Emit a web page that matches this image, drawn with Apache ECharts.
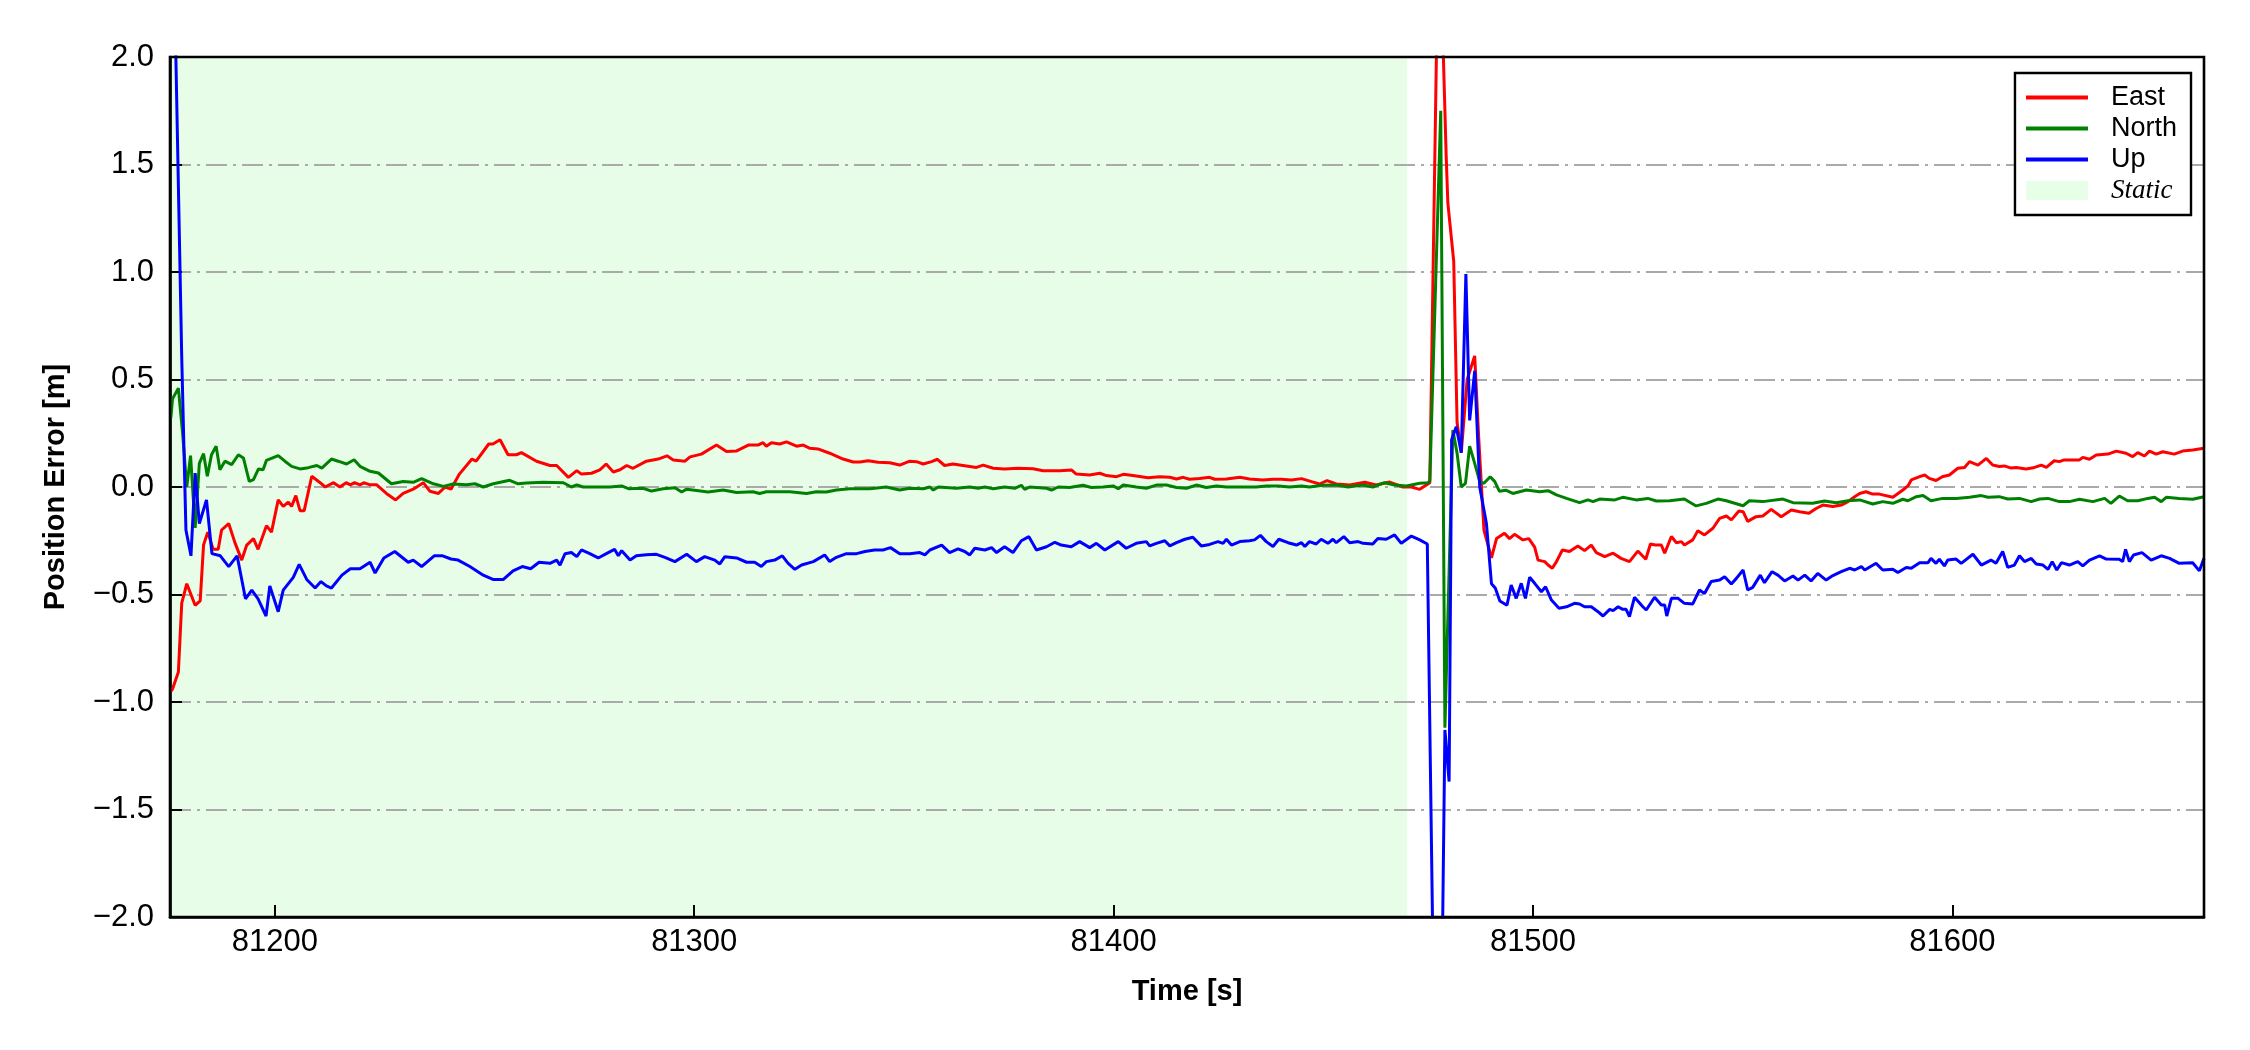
<!DOCTYPE html>
<html>
<head>
<meta charset="utf-8">
<script src="https://cdn.jsdelivr.net/npm/echarts@6/dist/echarts.min.js"></script>
<style>
  html, body { margin: 0; padding: 0; background: #fff; }
  #chart { width: 2250px; height: 1050px; }
</style>
</head>
<body>
<div id="chart"></div>
<script>
// tick positions on the time axis
var xTicks = [81200, 81300, 81400, 81500, 81600];
// static period (shaded)
var staticSpan = [81175, 81470];

// [time, error] pairs
var east = [
  [81175.2,-0.95],[81175.6,-0.94],[81177,-0.86],[81177.8,-0.54],[81179,-0.45],[81181,-0.55],[81182.2,-0.53],[81183,-0.27],
  [81184,-0.21],[81185.3,-0.29],[81186.5,-0.29],[81187.3,-0.2],[81189,-0.17],[81190.5,-0.26],[81192.1,-0.34],[81193.3,-0.27],
  [81194.9,-0.24],[81196,-0.29],[81198,-0.18],[81199.2,-0.21],[81200.8,-0.06],[81202,-0.09],[81203.2,-0.07],[81204,-0.09],
  [81205,-0.04],[81206,-0.11],[81207,-0.11],[81208.8,0.05],[81210.8,0.02],[81212,0],[81214,0.02],[81215.5,0],[81217,0.02],
  [81218,0.01],[81219,0.02],[81220.3,0.01],[81221.2,0.02],[81222.7,0.01],[81224.3,0.01],[81226.6,-0.03],[81228.8,-0.06],
  [81230.6,-0.03],[81233,-0.01],[81235.4,0.02],[81237,-0.02],[81239,-0.03],[81240.6,0],[81242,-0.01],[81244,0.06],[81247,0.13],
  [81248,0.12],[81251,0.2],[81252,0.2],[81253.7,0.22],[81255.6,0.15],[81257.6,0.15],[81258.8,0.16],[81262.4,0.12],[81265.6,0.1],
  [81267.2,0.1],[81270,0.045],[81272,0.076],[81273.1,0.06],[81275.5,0.064],[81277.5,0.08],[81279,0.107],[81280.7,0.07],
  [81282.3,0.08],[81283.9,0.1],[81285.4,0.087],[81288.6,0.12],[81291.4,0.13],[81293.5,0.145],[81295,0.126],[81297.8,0.12],
  [81299,0.14],[81301.7,0.153],[81305.3,0.195],[81307.7,0.165],[81310,0.167],[81312.9,0.195],[81315.2,0.195],[81316.4,0.206],
  [81317.2,0.19],[81318.4,0.206],[81320.4,0.2],[81322,0.21],[81324.4,0.19],[81326,0.195],[81327.6,0.18],[81329.5,0.177],
  [81332.3,0.157],[81335.5,0.13],[81337.9,0.116],[81339.5,0.116],[81341.5,0.122],[81343.8,0.115],[81346.6,0.113],[81349,0.102],
  [81351.4,0.12],[81353,0.118],[81354.6,0.107],[81356.6,0.118],[81358,0.129],[81359.7,0.1],[81361.7,0.107],[81364.9,0.098],
  [81367.3,0.091],[81368.9,0.102],[81371.3,0.087],[81374,0.084],[81377.2,0.087],[81380.8,0.085],[81383.2,0.076],[81387.2,0.076],
  [81390,0.079],[81391.1,0.06],[81394.3,0.056],[81396.7,0.064],[81398.3,0.053],[81400.7,0.048],[81402.3,0.059],[81404.6,0.053],
  [81408.2,0.043],[81411,0.048],[81413.4,0.045],[81415,0.037],[81416.6,0.045],[81418.1,0.036],[81420.5,0.04],[81422.9,0.045],
  [81424.1,0.036],[81426.9,0.037],[81430.1,0.045],[81432.4,0.037],[81435.6,0.033],[81438,0.036],[81440,0.036],[81442.4,0.033],
  [81444.8,0.039],[81447.2,0.025],[81449.1,0.014],[81450.9,0.03],[81453.1,0.014],[81456.3,0.009],[81459.9,0.022],[81462.6,0.009],
  [81465.8,0.023],[81469,0],[81471,0],[81473,-0.011],[81475.4,0.02],[81477.2,2.3],[81478.2,2.3],[81479.3,1.54],[81479.7,1.32],
  [81481.1,1.05],[81481.9,0.3],[81482.9,0.16],[81484.3,0.5],[81486.1,0.61],[81487,0.25],[81488.3,-0.2],[81490.1,-0.33],
  [81491.3,-0.24],[81493.2,-0.215],[81494.4,-0.24],[81495.6,-0.22],[81497.6,-0.246],[81499,-0.24],[81500.4,-0.28],[81501.2,-0.34],
  [81502.8,-0.347],[81503.6,-0.363],[81504.6,-0.378],[81505.6,-0.347],[81507,-0.293],[81508.7,-0.3],[81510.7,-0.274],
  [81512.3,-0.296],[81513.9,-0.27],[81515.1,-0.305],[81517.1,-0.324],[81519.1,-0.308],[81521,-0.332],[81523,-0.347],[81525,-0.298],
  [81526.9,-0.336],[81528,-0.265],[81529.2,-0.27],[81530.6,-0.27],[81531.4,-0.308],[81533,-0.23],[81534.2,-0.259],[81535.4,-0.254],
  [81536.1,-0.27],[81538.1,-0.246],[81539.3,-0.203],[81540.9,-0.223],[81542.9,-0.192],[81544.5,-0.146],[81546.1,-0.135],
  [81547.3,-0.153],[81549.1,-0.112],[81550.1,-0.115],[81551.2,-0.16],[81553.2,-0.138],[81554.8,-0.135],[81556.8,-0.104],
  [81559.2,-0.138],[81561.6,-0.107],[81563.6,-0.115],[81565.8,-0.122],[81567.5,-0.1],[81569.1,-0.084],[81571.5,-0.091],
  [81573.5,-0.084],[81575.1,-0.068],[81576.7,-0.045],[81577.9,-0.03],[81579.4,-0.022],[81581,-0.033],[81582.6,-0.033],
  [81585.8,-0.048],[81588.2,-0.014],[81589.4,0.005],[81590.2,0.033],[81592.2,0.048],[81593.4,0.056],[81594.5,0.04],[81596.1,0.03],
  [81597.6,0.048],[81599.3,0.056],[81601.3,0.087],[81602.9,0.091],[81604.1,0.118],[81606.1,0.102],[81608.1,0.133],[81609.6,0.102],
  [81611.2,0.095],[81612.4,0.098],[81614,0.088],[81615.2,0.091],[81617.6,0.084],[81619.6,0.091],[81621.2,0.102],[81622.4,0.091],
  [81624.3,0.122],[81625.5,0.118],[81626.7,0.126],[81628.7,0.126],[81630.3,0.126],[81631.1,0.138],[81632.7,0.129],[81634.3,0.149],
  [81637.1,0.153],[81639.1,0.167],[81641.4,0.157],[81643,0.141],[81644.2,0.16],[81645.8,0.144],[81647,0.167],[81648.6,0.153],
  [81650.2,0.164],[81652.9,0.153],[81654.9,0.167],[81657.3,0.172],[81660,0.18]
];

var north = [
  [81175.2,0.32],[81175.6,0.41],[81177,0.46],[81178,0.25],[81179,0],[81179.9,0.146],[81181,-0.19],[81182,0.11],[81183,0.155],
  [81183.9,0.05],[81184.9,0.15],[81186,0.19],[81186.9,0.08],[81188.1,0.12],[81189.7,0.104],[81191.3,0.15],[81192.5,0.135],
  [81193.9,0.026],[81194.9,0.034],[81196.1,0.084],[81197.2,0.08],[81198,0.124],[81200.8,0.146],[81202.4,0.12],[81204,0.096],
  [81206,0.084],[81208,0.09],[81210,0.1],[81211.2,0.088],[81213.5,0.13],[81215.1,0.12],[81217.1,0.107],[81218.9,0.127],
  [81220.3,0.096],[81222.7,0.073],[81224.7,0.065],[81227.8,0.015],[81230.6,0.026],[81233,0.022],[81235,0.039],[81237.8,0.015],
  [81240.2,0.003],[81242.5,0.014],[81245.7,0.011],[81247.7,0.015],[81249.7,0],[81252.1,0.015],[81256,0.031],[81258,0.015],
  [81260,0.019],[81264,0.022],[81268.8,0.02],[81270.7,0],[81272,0.01],[81273.5,0],[81276.7,0],[81279.9,0],[81282.7,0.005],
  [81284.3,-0.008],[81287.8,-0.006],[81289.8,-0.019],[81292.6,-0.008],[81295.4,-0.003],[81297,-0.023],[81298.2,-0.01],
  [81303.3,-0.023],[81306.9,-0.014],[81310.1,-0.026],[81314,-0.022],[81315.6,-0.03],[81317.2,-0.022],[81322.8,-0.022],
  [81326.8,-0.03],[81329.1,-0.022],[81331.5,-0.023],[81333.9,-0.014],[81337.1,-0.008],[81341.9,-0.008],[81345.8,0],[81349,-0.014],
  [81351.4,-0.006],[81354.6,-0.008],[81356.2,0],[81357,-0.014],[81358.2,0],[81362.5,-0.006],[81365.7,0],[81367.7,-0.006],
  [81369.3,0],[81371.3,-0.008],[81374,0],[81376.4,-0.006],[81378,0.008],[81378.8,-0.011],[81380,0],[81384,-0.006],[81385.2,-0.014],
  [81386.8,0],[81389.5,-0.002],[81392.7,0.008],[81394.7,-0.002],[81397.5,0],[81399.9,0.005],[81401.1,-0.008],[81402.3,0.009],
  [81405.4,0],[81407.8,-0.006],[81410.2,0.009],[81412.6,0.009],[81415,-0.002],[81417.4,-0.006],[81419.7,0.009],[81422.1,-0.002],
  [81424.5,0.005],[81426.9,0],[81430.9,0],[81434,0],[81436.4,0.005],[81439.2,0.005],[81442,0],[81444.8,0.005],[81446.7,0],
  [81449.9,0.008],[81453.1,0.009],[81455.9,0],[81459.5,0.009],[81461.8,0],[81464.6,0.02],[81467,0.009],[81469.8,0.005],
  [81473,0.017],[81475,0.02],[81475.4,0.03],[81478,1.75],[81479,-1.12],[81480.9,0.265],[81481.9,0.157],[81482.9,0],
  [81483.9,0.017],[81484.9,0.19],[81486.1,0.11],[81487.3,0.025],[81488.3,0.017],[81489.8,0.048],[81490.9,0.025],[81492,-0.02],
  [81493.5,-0.015],[81495.2,-0.03],[81498.4,-0.014],[81501.6,-0.022],[81503.6,-0.017],[81505.6,-0.037],[81508,-0.053],
  [81511.1,-0.073],[81513.1,-0.06],[81514.3,-0.068],[81515.9,-0.056],[81519.5,-0.06],[81521.4,-0.048],[81524.6,-0.06],
  [81527.4,-0.053],[81529.4,-0.065],[81532.6,-0.064],[81536.1,-0.056],[81538.9,-0.088],[81541.3,-0.076],[81544.1,-0.056],
  [81546.1,-0.064],[81550.1,-0.087],[81551.6,-0.064],[81554.8,-0.068],[81559.6,-0.056],[81562,-0.073],[81566.7,-0.076],
  [81569.5,-0.065],[81572.3,-0.073],[81575.1,-0.064],[81577.9,-0.06],[81581,-0.079],[81583.4,-0.068],[81585.8,-0.076],
  [81588.2,-0.057],[81589.4,-0.064],[81591.4,-0.045],[81593,-0.04],[81594.9,-0.064],[81597.7,-0.053],[81600.9,-0.053],
  [81604.1,-0.048],[81606.9,-0.04],[81608.5,-0.048],[81611.2,-0.045],[81613.2,-0.056],[81616,-0.053],[81618.8,-0.068],
  [81620.8,-0.056],[81622.8,-0.053],[81625.5,-0.068],[81627.9,-0.068],[81630.3,-0.057],[81633.5,-0.068],[81636.3,-0.053],
  [81637.8,-0.076],[81639.8,-0.042],[81641.8,-0.064],[81644.2,-0.064],[81646.6,-0.053],[81648.2,-0.048],[81649.8,-0.068],
  [81651,-0.048],[81654.1,-0.053],[81657.3,-0.057],[81660,-0.045]
];

var up = [
  [81175.2,3.2],[81176.4,2.0],[81177.8,0.6],[81178.8,-0.2],[81180,-0.32],[81181,0.065],[81182,-0.17],[81183.7,-0.06],[81185,-0.31],
  [81187,-0.32],[81189,-0.37],[81191,-0.32],[81193,-0.52],[81194.5,-0.48],[81196,-0.52],[81197.9,-0.6],[81198.8,-0.46],
  [81200.8,-0.58],[81202,-0.48],[81204.4,-0.42],[81205.8,-0.36],[81207.6,-0.43],[81209.6,-0.47],[81211,-0.44],[81212.3,-0.46],
  [81213.5,-0.47],[81216,-0.41],[81218,-0.38],[81220.3,-0.38],[81222.7,-0.35],[81223.9,-0.4],[81226,-0.33],[81228.6,-0.3],
  [81231.8,-0.35],[81233,-0.34],[81235,-0.37],[81238,-0.32],[81240,-0.32],[81242,-0.335],[81243.7,-0.34],[81246.5,-0.37],
  [81249.7,-0.41],[81252,-0.43],[81254.5,-0.43],[81256.8,-0.39],[81259,-0.37],[81261,-0.38],[81263,-0.35],[81265.6,-0.355],
  [81267.2,-0.34],[81268,-0.363],[81269.2,-0.31],[81270.7,-0.305],[81272,-0.324],[81273.1,-0.293],[81275.1,-0.31],[81277.1,-0.33],
  [81279.5,-0.305],[81281,-0.29],[81281.9,-0.32],[81282.7,-0.296],[81284.7,-0.34],[81286.2,-0.32],[81288.6,-0.315],[81291,-0.313],
  [81293,-0.327],[81295.4,-0.347],[81298.2,-0.313],[81300.5,-0.347],[81302.5,-0.324],[81304.9,-0.34],[81306.1,-0.358],
  [81307.3,-0.324],[81310.1,-0.33],[81312.5,-0.35],[81314.4,-0.35],[81316,-0.37],[81317.2,-0.347],[81319.2,-0.34],[81321,-0.32],
  [81322.4,-0.355],[81324,-0.383],[81325.6,-0.363],[81328.4,-0.347],[81331.1,-0.316],[81332.3,-0.347],[81333.9,-0.327],
  [81336.3,-0.31],[81338.7,-0.31],[81340.7,-0.3],[81343,-0.293],[81345,-0.293],[81346.8,-0.282],[81349,-0.31],[81351.4,-0.31],
  [81353.8,-0.305],[81355,-0.316],[81356.2,-0.293],[81359,-0.27],[81360.9,-0.305],[81362.9,-0.288],[81364.5,-0.3],[81365.7,-0.316],
  [81366.9,-0.285],[81369.3,-0.293],[81370.9,-0.282],[81372.1,-0.305],[81374,-0.278],[81376,-0.305],[81378,-0.25],[81379.8,-0.231],
  [81381.6,-0.293],[81384,-0.278],[81386,-0.257],[81387.5,-0.27],[81389.9,-0.278],[81391.9,-0.254],[81394.3,-0.282],
  [81395.9,-0.262],[81397.9,-0.293],[81401.1,-0.254],[81403,-0.285],[81405.4,-0.262],[81407.8,-0.254],[81408.6,-0.274],
  [81410.2,-0.262],[81412.2,-0.25],[81413.4,-0.274],[81415,-0.259],[81417,-0.243],[81418.9,-0.234],[81420.9,-0.274],
  [81422.9,-0.267],[81424.9,-0.254],[81426.1,-0.262],[81426.9,-0.243],[81428.1,-0.27],[81430.1,-0.254],[81432.4,-0.25],
  [81433.6,-0.246],[81435,-0.225],[81436.4,-0.254],[81438,-0.277],[81439.4,-0.243],[81441.6,-0.259],[81443.6,-0.27],
  [81444.8,-0.259],[81445.6,-0.277],[81446.7,-0.254],[81448.3,-0.265],[81449.5,-0.243],[81451.1,-0.262],[81452.3,-0.243],
  [81453.1,-0.259],[81454.9,-0.231],[81456.3,-0.259],[81458.3,-0.254],[81459.5,-0.262],[81461.8,-0.265],[81463,-0.239],
  [81465,-0.243],[81467,-0.223],[81468.6,-0.262],[81471,-0.228],[81473,-0.246],[81474.8,-0.265],[81476.6,-2.8],[81478,-2.8],
  [81479,-1.13],[81480,-1.37],[81480.6,0.22],[81481.7,0.28],[81482.9,0.16],[81484,0.99],[81484.9,0.31],[81486.1,0.54],
  [81487.3,0.0],[81488.9,-0.17],[81490.1,-0.45],[81491,-0.47],[81492.1,-0.53],[81493.8,-0.55],[81494.8,-0.456],[81496,-0.518],
  [81497.2,-0.448],[81498.2,-0.518],[81499.2,-0.42],[81500.4,-0.448],[81502,-0.487],[81503,-0.464],[81504.4,-0.526],
  [81506.2,-0.564],[81508,-0.557],[81509.9,-0.541],[81511.1,-0.544],[81512.3,-0.557],[81513.9,-0.557],[81515.5,-0.58],
  [81516.7,-0.6],[81518.3,-0.569],[81519.1,-0.575],[81520.3,-0.557],[81521.4,-0.569],[81522.2,-0.569],[81523,-0.603],
  [81524.2,-0.513],[81526.2,-0.557],[81527,-0.572],[81529,-0.513],[81530.6,-0.549],[81531.4,-0.549],[81531.9,-0.6],[81533,-0.518],
  [81534.6,-0.518],[81536.1,-0.541],[81538.1,-0.544],[81539.7,-0.479],[81540.9,-0.495],[81542.5,-0.44],[81544.5,-0.433],
  [81545.7,-0.417],[81547.3,-0.451],[81548.5,-0.425],[81550.1,-0.386],[81551.2,-0.479],[81552.4,-0.467],[81554.2,-0.41],
  [81555.2,-0.445],[81557,-0.394],[81558.4,-0.41],[81560,-0.437],[81562,-0.414],[81563.2,-0.433],[81564.8,-0.41],[81566.3,-0.437],
  [81567.9,-0.402],[81569.9,-0.433],[81571.5,-0.412],[81573.5,-0.394],[81575.5,-0.378],[81576.7,-0.386],[81578.3,-0.37],
  [81579.1,-0.386],[81581.8,-0.355],[81583.4,-0.386],[81585.8,-0.383],[81587,-0.398],[81589,-0.374],[81590.2,-0.378],
  [81592.2,-0.352],[81594.2,-0.352],[81594.9,-0.332],[81596.1,-0.355],[81596.9,-0.336],[81598.1,-0.367],[81598.9,-0.34],
  [81600.9,-0.335],[81602.1,-0.355],[81604.9,-0.313],[81606.9,-0.363],[81609.2,-0.34],[81610.4,-0.355],[81612,-0.3],
  [81613.2,-0.374],[81614.8,-0.363],[81616,-0.32],[81617.2,-0.347],[81618.8,-0.332],[81620,-0.358],[81621.6,-0.363],
  [81622.8,-0.383],[81623.8,-0.347],[81624.9,-0.386],[81626,-0.352],[81627.9,-0.363],[81629.9,-0.347],[81631.1,-0.367],
  [81632.7,-0.34],[81635.1,-0.32],[81636.7,-0.335],[81639.8,-0.336],[81640.6,-0.347],[81641.3,-0.29],[81642.2,-0.347],
  [81643.2,-0.316],[81645.2,-0.305],[81647.4,-0.34],[81649.8,-0.32],[81651.8,-0.332],[81654.1,-0.355],[81657.3,-0.352],
  [81658.9,-0.39],[81660,-0.332]
];

var chart = echarts.init(document.getElementById('chart'));

var font = 'Liberation Sans, Arial, sans-serif';
// thin bar used as the legend mark of the line series
var lineIcon = 'path://M0,0L62,0L62,4L0,4Z';

function lineSeries(name, data, color) {
  return {
    name: name,
    type: 'line',
    data: data,
    symbol: 'none',
    showSymbol: false,
    z: 4,
    color: color,
    itemStyle: { color: color },
    lineStyle: { color: color, width: 3 },
  };
}

var option = {
  animation: false,
  backgroundColor: '#fff',
  grid: {
    left: 170, right: 46, top: 57, bottom: 133,
    show: true,
    z: 5,
    borderColor: '#000',
    borderWidth: 2.6,
    backgroundColor: 'transparent',
  },
  legend: {
    z: 8,
    orient: 'vertical',
    right: 59,
    top: 73,
    padding: [11, 14, 11, 11],
    itemWidth: 62,
    itemHeight: 19,
    itemGap: 4,
    borderColor: '#000',
    borderWidth: 2.4,
    borderRadius: 0,
    backgroundColor: '#fff',
    selectedMode: false,
    textStyle: {
      fontFamily: font, fontSize: 27, color: '#000',
      padding: [0, 0, 0, 18],
      rich: {
        it: { fontFamily: 'Liberation Serif, serif', fontStyle: 'italic', fontSize: 27, color: '#000' },
      },
    },
    formatter: function (name) {
      return name === 'Static' ? '{it|Static}' : name;
    },
    data: [
      { name: 'East', icon: lineIcon },
      { name: 'North', icon: lineIcon },
      { name: 'Up', icon: lineIcon },
      { name: 'Static', icon: 'rect' },
    ],
  },
  xAxis: {
    type: 'value',
    min: staticSpan[0],
    max: 81660,
    z: 2,
    name: 'Time [s]',
    nameLocation: 'middle',
    nameGap: 60,
    nameTextStyle: { fontFamily: font, fontWeight: 'bold', fontSize: 29, color: '#000' },
    axisLine: { onZero: false, lineStyle: { color: '#000', width: 2.6 } },
    axisTick: { inside: true, length: 12, lineStyle: { color: '#000', width: 2 }, customValues: xTicks },
    axisLabel: {
      margin: 10, fontFamily: font, fontSize: 31, color: '#000', customValues: xTicks,
      formatter: function (v) { return String(v); },
    },
    splitLine: { show: false },
  },
  yAxis: {
    type: 'value',
    min: -2,
    max: 2,
    interval: 0.5,
    z: 2,
    name: 'Position Error [m]',
    nameLocation: 'middle',
    nameGap: 100,
    nameTextStyle: { fontFamily: font, fontWeight: 'bold', fontSize: 29, color: '#000' },
    axisLine: { onZero: false, lineStyle: { color: '#000', width: 2.6 } },
    axisTick: { inside: true, length: 12, lineStyle: { color: '#000', width: 2 } },
    axisLabel: {
      margin: 16, fontFamily: font, fontSize: 31, color: '#000',
      formatter: function (v) { return (v < 0 ? '\u2212' : '') + Math.abs(v).toFixed(1); },
    },
    splitLine: {
      show: true,
      showMinLine: false,
      showMaxLine: false,
      lineStyle: { color: '#aaaaaa', width: 2, type: [21, 6, 3, 6] },
    },
  },
  series: [
    lineSeries('East', east, '#ff0000'),
    lineSeries('North', north, '#008000'),
    lineSeries('Up', up, '#0000ff'),
    {
      name: 'Static',
      type: 'line',
      data: [],
      color: '#e6ffe6',
      itemStyle: { color: '#e6ffe6' },
      z: 1,
      markArea: {
        silent: true,
        z: 1,
        label: { show: false },
        itemStyle: { color: '#e8fde8' },
        data: [[{ xAxis: staticSpan[0] }, { xAxis: staticSpan[1] }]],
      },
    },
  ],
};

chart.setOption(option);
</script>
</body>
</html>
